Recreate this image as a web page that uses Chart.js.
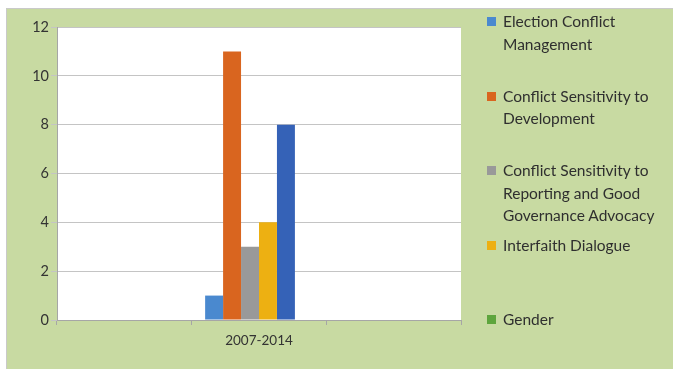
<!DOCTYPE html>
<html>
<head>
<meta charset="utf-8">
<script src="https://cdn.jsdelivr.net/npm/chart.js@4/dist/chart.umd.min.js"></script>
<style>
  html, body { margin: 0; padding: 0; background: #fff; }
  #wrap { position: relative; width: 673px; height: 369px; }
  #legend { position: absolute; left: 0; top: 0; width: 673px; height: 369px; pointer-events: none;
            font-family: Lato, "Liberation Sans", sans-serif; font-size: 15.5px; color: #2f2f2f; }
  .item { position: absolute; left: 487px; line-height: 22.5px; }
  .box { position: absolute; left: 0; top: 7px; width: 9px; height: 9px; }
  .txt { position: absolute; left: 16px; top: 0; white-space: nowrap; }
</style>
</head>
<body>
<div id="wrap">
  <canvas id="chart" width="673" height="369"></canvas>
  <div id="legend"></div>
</div>
<script>
// categories (outer two are empty slots, as in the original)
const categories = ['', '2007-2014', ''];

// series names, split into the lines shown in the legend
const seriesLabels = [
    ['Election Conflict', 'Management'],
    ['Conflict Sensitivity to', 'Development'],
    ['Conflict Sensitivity to', 'Reporting and Good', 'Governance Advocacy'],
    ['Interfaith Dialogue'],
    [],              // no legend entry in the original
    ['Gender']
];
const seriesValues = [
    [null, 1, null],
    [null, 11, null],
    [null, 3, null],
    [null, 4, null],
    [null, 8, null],
    [null, 0, null]
];
const seriesColors = ['#4A89CF', '#D9651F', '#999999', '#EDB012', '#3562B7', '#5EA53D'];

const yTicks = [0, 2, 4, 6, 8, 10, 12];

document.addEventListener('DOMContentLoaded', () => {
    const canvas = document.getElementById('chart');

    // green chart background + white plot area
    const bgPlugin = {
        id: 'bg',
        beforeDraw(chart) {
            const c = chart.ctx;
            const a = chart.chartArea;
            c.save();
            c.fillStyle = '#C8DAA2';
            c.fillRect(6, 8, chart.width - 6, chart.height - 8);
            c.strokeStyle = '#C9C9C9';
            c.lineWidth = 1;
            c.beginPath();
            c.moveTo(6.5, chart.height);
            c.lineTo(6.5, 8.5);
            c.lineTo(chart.width, 8.5);
            c.stroke();
            c.fillStyle = '#ffffff';
            c.fillRect(a.left, a.top, a.right - a.left, a.bottom - a.top);
            c.restore();
        }
    };

    const datasets = seriesLabels.map((lines, i) => ({
        label: lines.join(' '),
        data: seriesValues[i],
        backgroundColor: seriesColors[i],
        borderWidth: 0,
        categoryPercentage: 0.8,
        barPercentage: 1.0
    }));

    new Chart(canvas.getContext('2d'), {
        type: 'bar',
        data: { labels: categories, datasets: datasets },
        plugins: [bgPlugin],
        options: {
            responsive: false,
            animation: false,
            devicePixelRatio: 1,
            layout: { padding: { left: 0, top: 27, right: 212, bottom: 0 } },
            plugins: { legend: { display: false }, tooltip: { enabled: false } },
            scales: {
                x: {
                    offset: true,
                    grid: { offset: true, drawOnChartArea: false, drawTicks: true, tickLength: 5, color: '#A6A6A6' },
                    border: { color: '#A6A6A6' },
                    ticks: { color: '#333333', padding: 8, font: { family: 'Lato', size: 13.5 } },
                    afterFit(scale) { scale.height = 49; }
                },
                y: {
                    min: 0,
                    max: 12,
                    afterBuildTicks(scale) { scale.ticks = yTicks.map(v => ({ value: v })); },
                    grid: { color: '#C4C4C4', tickLength: 6 },
                    border: { color: '#A6A6A6' },
                    ticks: { color: '#333333', padding: 2, font: { family: 'Lato', size: 14.5 } },
                    afterFit(scale) { scale.width = 57; }
                }
            }
        }
    });

    // legend, built from the series arrays
    const legend = document.getElementById('legend');
    let slot = 0;
    seriesLabels.forEach((lines, i) => {
        if (!lines.length) return;
        const item = document.createElement('div');
        item.className = 'item';
        item.style.top = (10 + slot * 74.5) + 'px';
        const box = document.createElement('div');
        box.className = 'box';
        box.style.background = seriesColors[i];
        const txt = document.createElement('div');
        txt.className = 'txt';
        txt.innerHTML = lines.join('<br>');
        item.appendChild(box);
        item.appendChild(txt);
        legend.appendChild(item);
        slot++;
    });
});
</script>
</body>
</html>
